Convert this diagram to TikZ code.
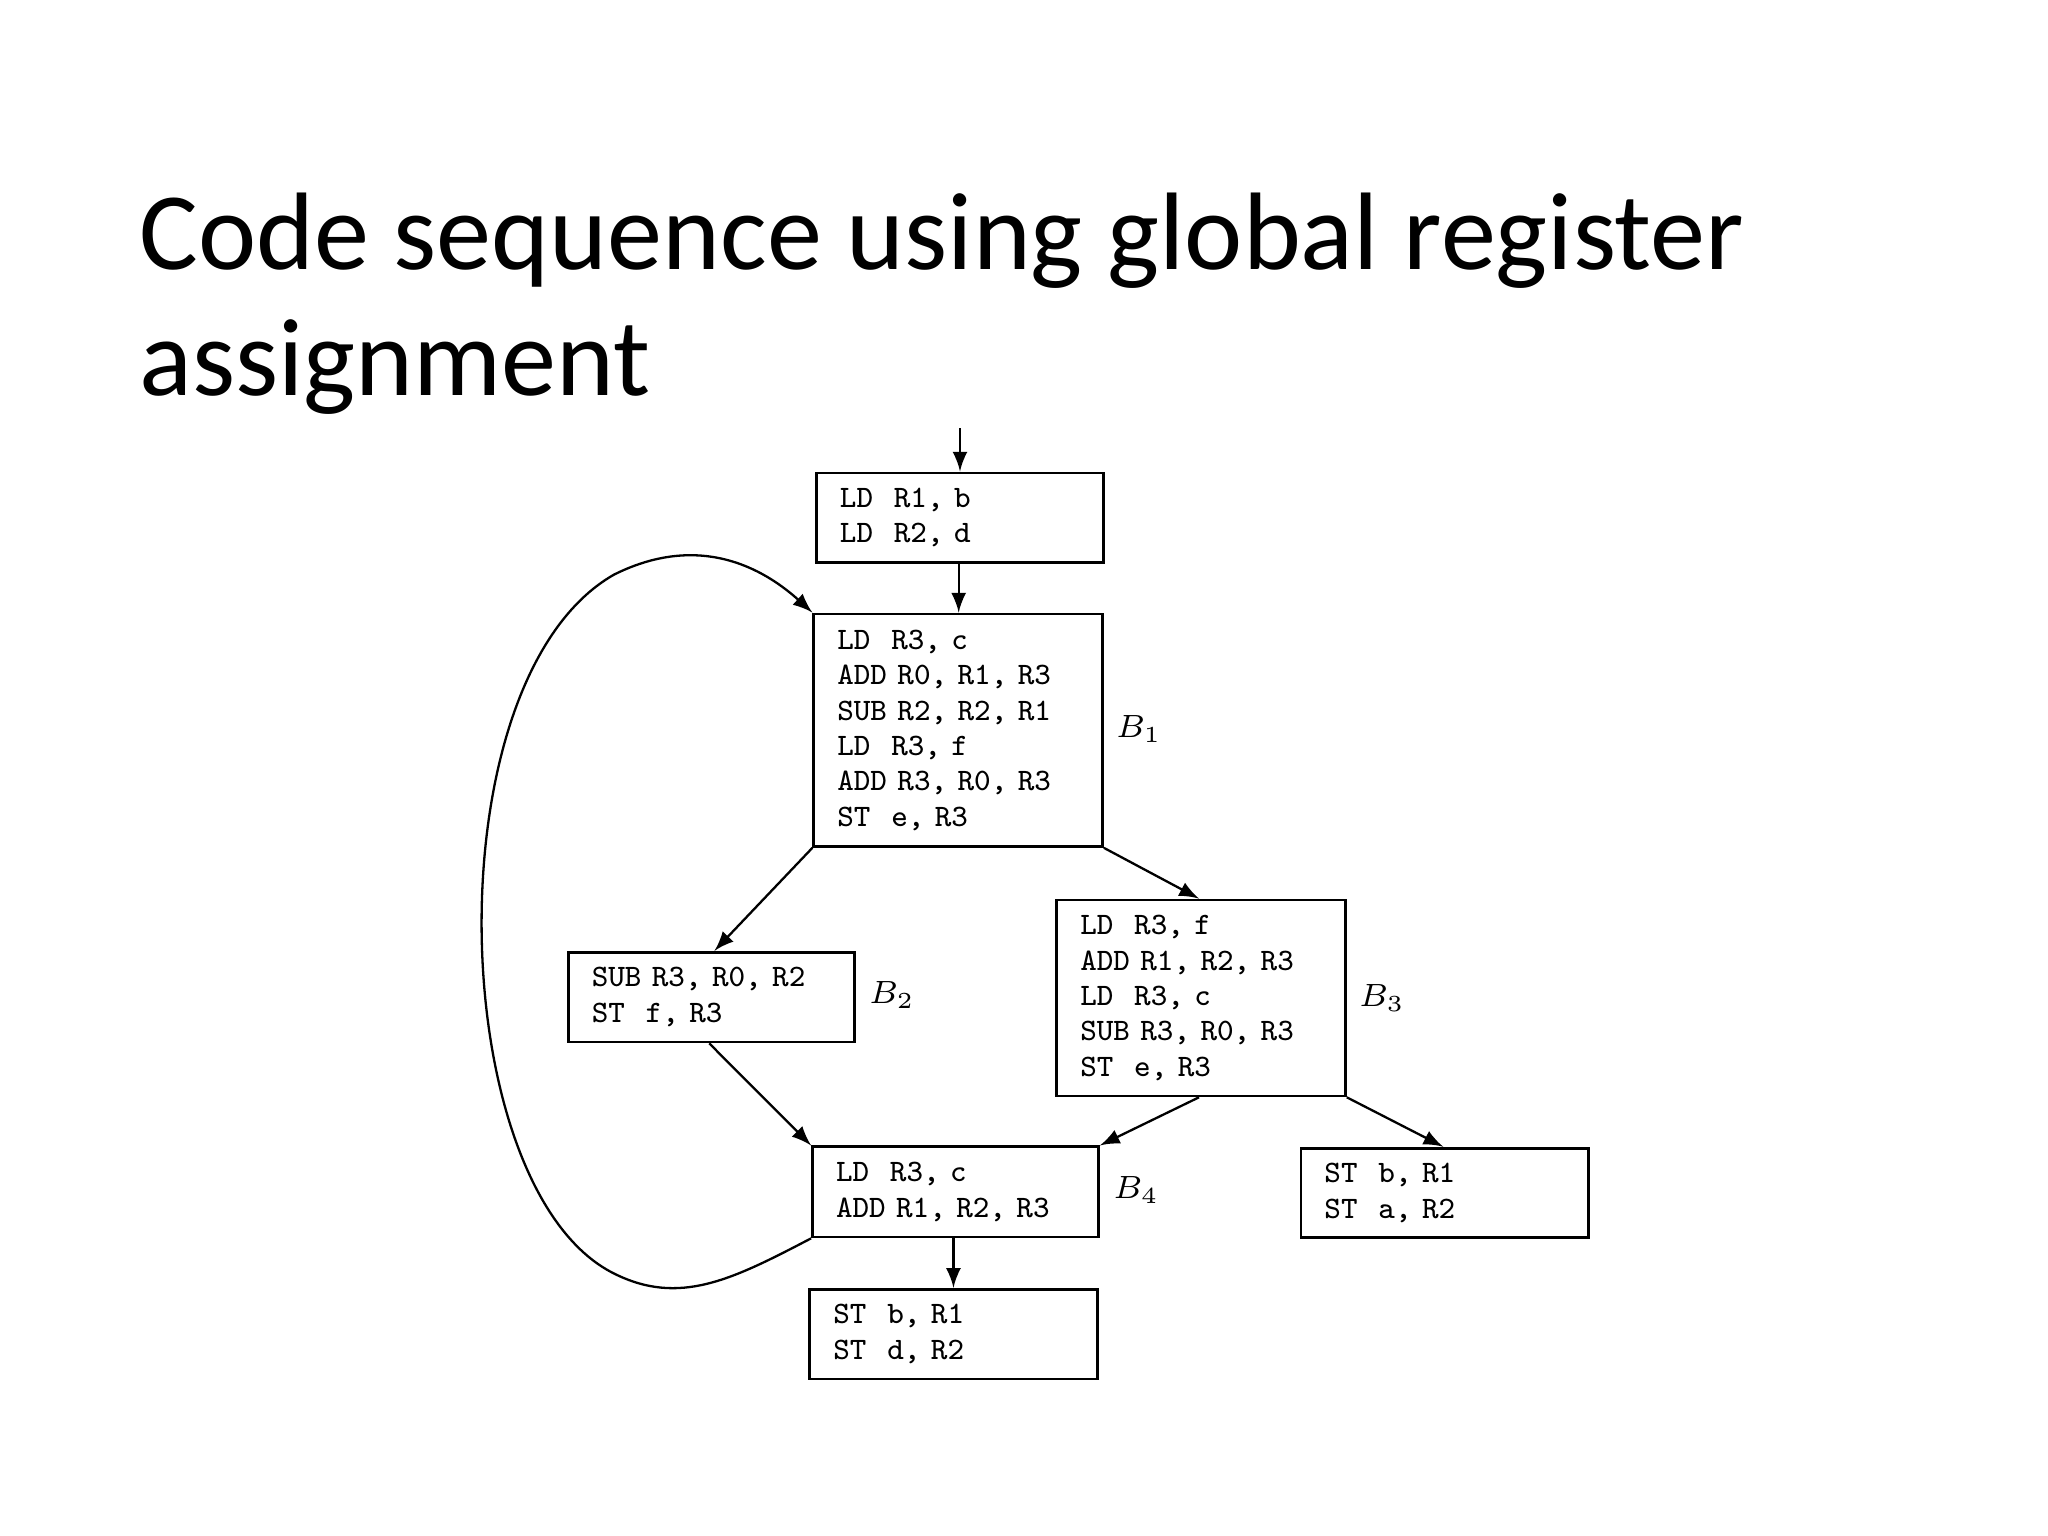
\documentclass[tikz,border=0pt]{standalone}
\usepackage{fontspec}
\newfontfamily\titlefont{Carlito}
\tikzset{
  code/.style={draw, line width=0.6pt, anchor=north west, align=left, inner xsep=0.18cm,
    font=\fontsize{6.8}{7.7}\selectfont\ttfamily},
  lab/.style={font=\fontsize{7.5}{8}\selectfont},
  arr/.style={-latex, line width=0.5pt}
}
\begin{document}
\begin{tikzpicture}[x=0.01cm,y=-0.01cm]
\useasboundingbox (0,0) rectangle (1568,1176);
\node[anchor=north west, align=left, inner sep=0, font=\titlefont\fontsize{24}{27.5}\selectfont] (title) at (106,147) {Code sequence using global register\\assignment};
\newcommand\bx[6]{\node[code, text width={(#4-#2)*0.01cm-0.36cm}, minimum height={(#5-#3)*0.01cm}] (#1) at (#2,#3) {#6};}
\bx{top}{624}{361}{844}{429}{LD\ \ R1, b\\LD\ \ R2, d}
\bx{b1}{622}{469}{843}{647}{LD\ \ R3, c\\ADD R0, R1, R3\\SUB R2, R2, R1\\LD\ \ R3, f\\ADD R3, R0, R3\\ST\ \ e, R3}
\bx{b2}{434}{728}{653}{796}{SUB R3, R0, R2\\ST\ \ f, R3}
\bx{b3}{808}{688}{1029}{838}{LD\ \ R3, f\\ADD R1, R2, R3\\LD\ \ R3, c\\SUB R3, R0, R3\\ST\ \ e, R3}
\bx{b4}{621}{877}{840}{946}{LD\ \ R3, c\\ADD R1, R2, R3}
\bx{ex}{619}{986}{839}{1054}{ST\ \ b, R1\\ST\ \ d, R2}
\bx{rt}{995}{878}{1215}{946}{ST\ \ b, R1\\ST\ \ a, R2}
\node[lab] (l1) at (872,558) {$B_1$};
\node[lab] (l2) at (683,762) {$B_2$};
\node[lab] (l3) at (1058,764) {$B_3$};
\node[lab] (l4) at (870,911) {$B_4$};
\coordinate (in) at (735,328);
\draw[arr] (in) -- (in |- top.north);
\draw[arr] (top.south -| 734,0) -- (b1.north -| 734,0);
\draw[arr] (b1.south west) -- (b2.north -| 547,0);
\draw[arr] (b1.south east) -- (b3.north -| 918,0);
\draw[arr] (b2.south -| 543,0) -- (b4.north west);
\draw[arr] (b3.south -| 918,0) -- (b4.north east);
\draw[arr] (b3.south east) -- (rt.north -| 1105,0);
\draw[arr] (b4.south -| 730,0) -- (ex.north -| 730,0);
\draw[arr] (b4.south west) .. controls (560,980) and (520,1000) .. (470,975)
  .. controls (340,910) and (330,520) .. (470,440) .. controls (540,405) and (590,440) .. (b1.north west);
\end{tikzpicture}
\end{document}
